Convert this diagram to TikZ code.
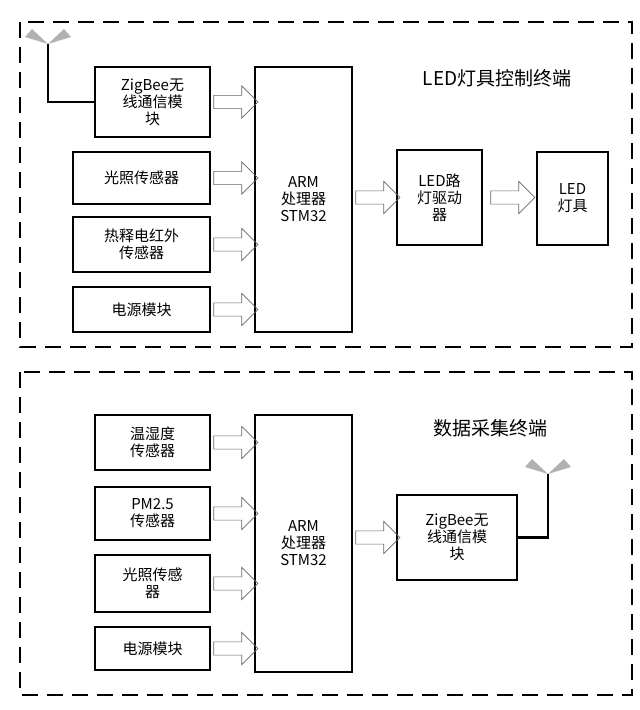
\documentclass[tikz,border=0pt]{standalone}
\usepackage{fontspec}
\setmainfont{Noto Sans CJK SC}
\usetikzlibrary{shapes.arrows,positioning,calc}

\tikzset{
	blk/.style={draw,line width=1.8pt,align=center,font=\fontsize{15}{17}\selectfont},
	frame/.style={draw,line width=2.2pt,dash pattern=on 16pt off 9pt},
	hollow/.style={single arrow,draw,gray!80!black,line width=0.7pt,inner sep=6pt,
		minimum height=44pt,minimum width=32pt,single arrow head extend=9pt},
	wire/.style={line width=2.2pt},
	title/.style={font=\fontsize{19}{21}\selectfont}
}
\newcommand{\hollowarrow}[3]{\node[hollow] at ($(#1.east|-#3)!0.5!(#2.west|-#3)$) {};}
\newcommand{\antenna}[1]{
	\fill[gray!60] (#1) -- ++(-16pt,15pt) -- ++(-7pt,-8pt) -- cycle;
	\fill[gray!60] (#1) -- ++(16pt,15pt) -- ++(7pt,-8pt) -- cycle;}

\begin{document}
\begin{tikzpicture}[x=1pt,y=-1pt]
	\useasboundingbox (0,0) rectangle (640,710);
	% top terminal
	\draw[frame] (20,22) rectangle (632,347);
	\node[title] (t1) at (497,78) {LED灯具控制终端};
	\node[blk,minimum width=115,minimum height=70] (zb1) at (152.5,102) {ZigBee无\\线通信模\\块};
	\node[blk,minimum width=137,minimum height=52] (lx1) at (141.5,178) {光照传感器};
	\node[blk,minimum width=137,minimum height=55] (rs1) at (141.5,244.5) {热释电红外\\传感器};
	\node[blk,minimum width=137,minimum height=45] (dy1) at (141.5,309.5) {电源模块};
	\node[blk,minimum width=97,minimum height=265] (arm1) at (303.5,199.5) {ARM\\处理器\\STM32};
	\node[blk,minimum width=85,minimum height=95] (drv) at (439.5,197.5) {LED路\\灯驱动\\器};
	\node[blk,minimum width=71,minimum height=93] (lamp) at (572.5,198.5) {LED\\灯具};
	\foreach \b in {zb1,lx1,rs1,dy1}
		\hollowarrow{\b}{arm1}{\b};
	\hollowarrow{arm1}{drv}{drv}
	\hollowarrow{drv}{lamp}{drv}
	\coordinate (ant1) at (48,44);
	\antenna{ant1}
	\draw[wire] (ant1) -- (ant1|-zb1) -- (zb1.west);
	% bottom terminal
	\draw[frame] (20,372) rectangle (632,695);
	\node[title] (t2) at (490,428) {数据采集终端};
	\node[blk,minimum width=115,minimum height=55] (ws) at (152.5,442.5) {温湿度\\传感器};
	\node[blk,minimum width=115,minimum height=53] (pm) at (152.5,513.5) {PM2.5\\传感器};
	\node[blk,minimum width=115,minimum height=57] (lx2) at (152.5,583.5) {光照传感\\器};
	\node[blk,minimum width=115,minimum height=43] (dy2) at (152.5,648.5) {电源模块};
	\node[blk,minimum width=97,minimum height=257] (arm2) at (303.5,543.5) {ARM\\处理器\\STM32};
	\node[blk,minimum width=120,minimum height=85] (zb2) at (457,537.5) {ZigBee无\\线通信模\\块};
	\foreach \b in {ws,pm,lx2,dy2}
		\hollowarrow{\b}{arm2}{\b};
	\hollowarrow{arm2}{zb2}{zb2}
	\coordinate (ant2) at (548,474);
	\antenna{ant2}
	\draw[wire] (ant2) -- (ant2|-zb2) -- (zb2.east);
\end{tikzpicture}
\end{document}
